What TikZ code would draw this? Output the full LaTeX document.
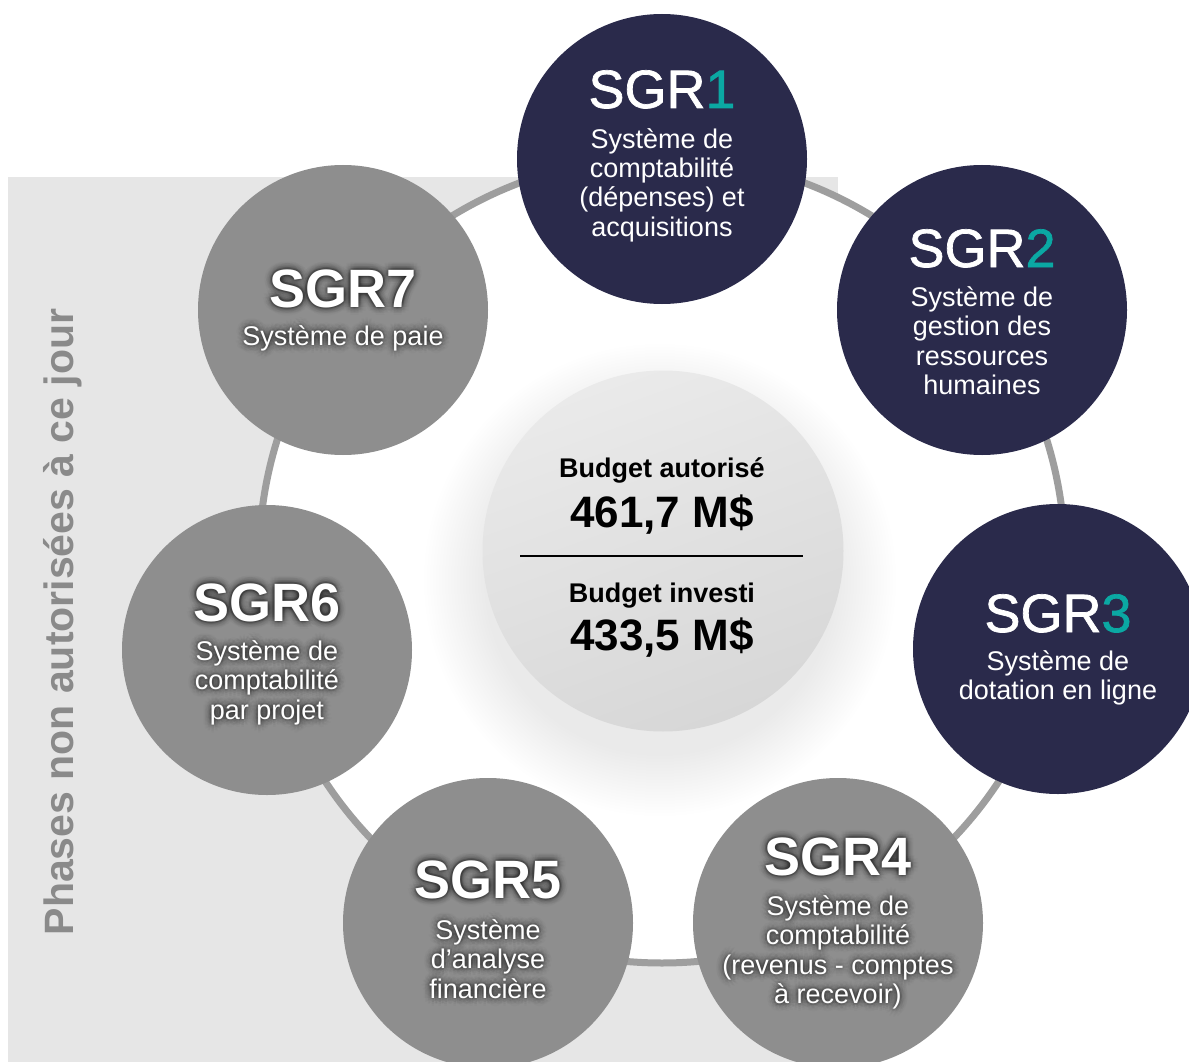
\documentclass[tikz,border=0pt]{standalone}
\usepackage{fontspec}
\setmainfont{Liberation Sans}
\newfontfamily\titlenavy[FakeBold=1.3]{Liberation Sans}
\usetikzlibrary{calc}
\definecolor{navy}{HTML}{2A2A4B}
\definecolor{tealc}{HTML}{0BA8A3}
\definecolor{greyc}{HTML}{8E8E8E}
\definecolor{bgrey}{HTML}{E6E6E6}
\definecolor{ringc}{HTML}{9E9E9E}
\definecolor{sidetext}{HTML}{8A8A8A}
\definecolor{ctop}{HTML}{EAEAEA}
\definecolor{cbot}{HTML}{D7D7D7}
\tikzset{
  navycirc/.style={circle, fill=navy, minimum size=290pt, inner sep=0pt},
  greycirc/.style={circle, fill=greyc, minimum size=290pt, inner sep=0pt},
  ntitle/.style={text=white, font=\titlenavy\fontsize{54}{60}\selectfont, anchor=base, inner sep=0pt},
  gtitle/.style={text=white, font=\bfseries\fontsize{54}{60}\selectfont, anchor=base, inner sep=0pt},
  bodytext/.style={text=white, font=\fontsize{27}{29.5}\selectfont, align=center, anchor=base, inner sep=0pt},
  ctext/.style={text=black, font=\bfseries\fontsize{27}{30}\selectfont, anchor=base, inner sep=0pt},
  cnum/.style={text=black, font=\bfseries\fontsize{44}{48}\selectfont, anchor=base, inner sep=0pt},
  sidelabel/.style={text=sidetext, font=\bfseries\fontsize{41}{46}\selectfont, rotate=90, anchor=base, inner sep=0pt},
}
\newcommand\glowcopies[3]{%
  \foreach \gr/\go in {2/0.045,4/0.035,6/0.025,8/0.015}{%
    \foreach \ga in {0,30,...,330}{%
      \node[#2, text=black, text opacity=\go] at ($(#1)+(\ga:\gr)$) {#3};%
    }%
  }%
}
\begin{document}
\begin{tikzpicture}[x=1pt, y=-1pt]
\useasboundingbox (0,0) rectangle (1189,1062);
\fill[white] (0,0) rectangle (1189,1062);
% grey panel
\fill[bgrey] (8,177) rectangle (838,1062);
\coordinate (ringc) at (662,560);
\fill[white] (ringc) circle (405);
% soft shadow of centre disc
\foreach \r in {0,3,...,60}{\fill[black, opacity=0.0035] (660,580) circle (176+\r);}
\draw[ringc, line width=7pt] (ringc) circle (403);
% circles
\node[navycirc] (c1) at (662,159) {};
\node[navycirc] (c2) at (982,310) {};
\node[navycirc] (c3) at (1058,649) {};
\node[greycirc] (c4) at (838,923) {};
\node[greycirc] (c5) at (488,923) {};
\node[greycirc] (c6) at (267,650) {};
\node[greycirc] (c7) at (343,310) {};
% centre disc
\node[circle, minimum size=361pt, inner sep=0pt, top color=ctop, bottom color=cbot, shading angle=20] (cc) at (663,551) {};
% navy texts (body anchor = baseline of last line)
\node[ntitle] (t1) at ($(c1)+(0,-51)$) {SGR\textcolor{tealc}{1}};
\node[bodytext] (b1) at ($(c1)+(0,77.5)$) {Système de\\comptabilité\\(dépenses) et\\acquisitions};
\node[ntitle] (t2) at ($(c2)+(0,-43)$) {SGR\textcolor{tealc}{2}};
\node[bodytext] (b2) at ($(c2)+(0,84.5)$) {Système de\\gestion des\\ressources\\humaines};
\node[ntitle] (t3) at ($(c3)+(0,-17)$) {SGR\textcolor{tealc}{3}};
\node[bodytext] (b3) at ($(c3)+(0,50.5)$) {Système de\\dotation en ligne};
% grey texts with halo
\coordinate (p4) at ($(c4)+(0,-48)$);
\coordinate (q4) at ($(c4)+(0,80.5)$);
\glowcopies{p4}{gtitle}{SGR4}
\glowcopies{q4}{bodytext}{Système de\\comptabilité\\(revenus - comptes\\à recevoir)}
\node[gtitle] (t4) at (p4) {SGR4};
\node[bodytext] (b4) at (q4) {Système de\\comptabilité\\(revenus - comptes\\à recevoir)};
\coordinate (p5) at ($(c5)+(0,-25)$);
\coordinate (q5) at ($(c5)+(0,75)$);
\glowcopies{p5}{gtitle}{SGR5}
\glowcopies{q5}{bodytext}{Système\\d’analyse\\financière}
\node[gtitle] (t5) at (p5) {SGR5};
\node[bodytext] (b5) at (q5) {Système\\d’analyse\\financière};
\coordinate (p6) at ($(c6)+(0,-29)$);
\coordinate (q6) at ($(c6)+(0,69)$);
\glowcopies{p6}{gtitle}{SGR6}
\glowcopies{q6}{bodytext}{Système de\\comptabilité\\par projet}
\node[gtitle] (t6) at (p6) {SGR6};
\node[bodytext] (b6) at (q6) {Système de\\comptabilité\\par projet};
\coordinate (p7) at ($(c7)+(0,-3)$);
\coordinate (q7) at ($(c7)+(0,35)$);
\glowcopies{p7}{gtitle}{SGR7}
\glowcopies{q7}{bodytext}{Système de paie}
\node[gtitle] (t7) at (p7) {SGR7};
\node[bodytext] (b7) at (q7) {Système de paie};
% centre texts
\node[ctext] (ba) at (662,477) {Budget autorisé};
\node[cnum] (na) at (662,527) {461,7 M\$};
\coordinate (la) at (520,556);
\coordinate (lb) at (803,556);
\draw[black, line width=2pt] (la) -- (lb);
\node[ctext] (bi) at (662,602) {Budget investi};
\node[cnum] (ni) at (662,650) {433,5 M\$};
% side label
\node[sidelabel] (side) at (73,622) {Phases non autorisées à ce jour};
\end{tikzpicture}
\end{document}
